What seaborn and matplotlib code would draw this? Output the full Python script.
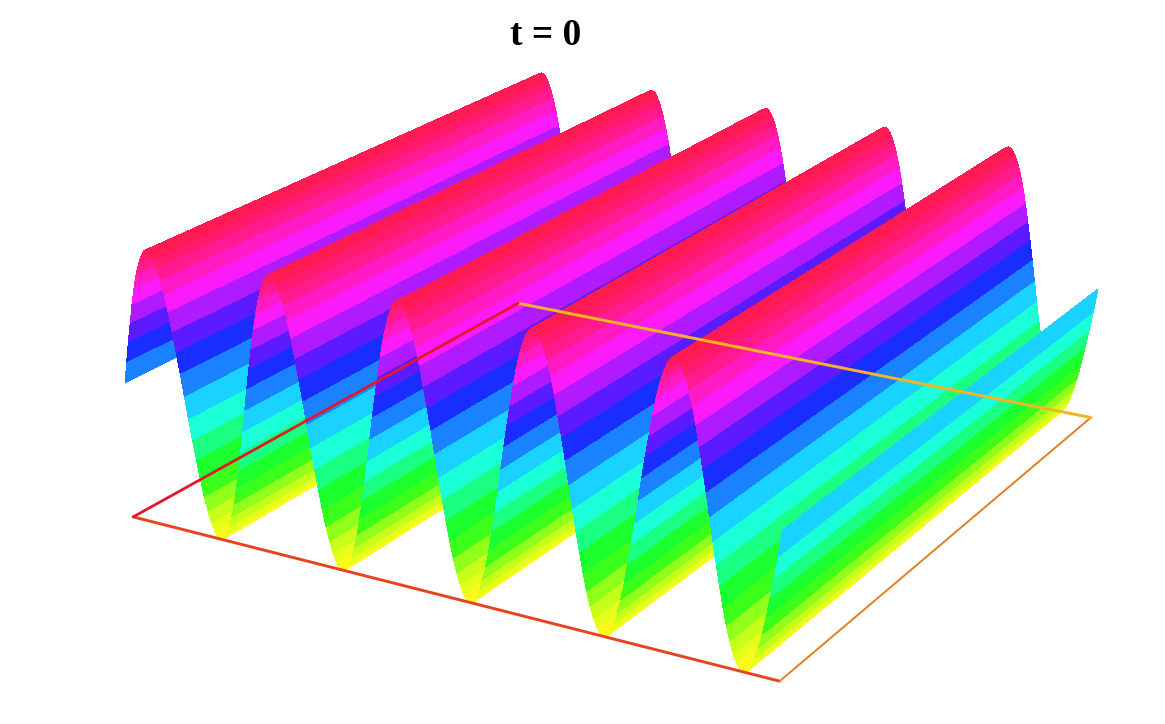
import numpy as np
import matplotlib
matplotlib.use('Agg')
import matplotlib.pyplot as plt
from matplotlib.colors import ListedColormap
import seaborn as sns

# ── Wave height read along the front edge, one list per ridge ──
wave_1 = [0.00, 0.16, 0.31, 0.45, 0.59, 0.71, 0.81, 0.89, 0.95, 0.99, 1.00, 0.99, 0.95, 0.89, 0.81, 0.71, 0.59, 0.45, 0.31, 0.16,
          0.00, -0.16, -0.31, -0.45, -0.59, -0.71, -0.81, -0.89, -0.95, -0.99, -1.00, -0.99, -0.95, -0.89, -0.81, -0.71, -0.59, -0.45, -0.31, -0.16]
wave_2 = [0.00, 0.16, 0.31, 0.45, 0.59, 0.71, 0.81, 0.89, 0.95, 0.99, 1.00, 0.99, 0.95, 0.89, 0.81, 0.71, 0.59, 0.45, 0.31, 0.16,
          0.00, -0.16, -0.31, -0.45, -0.59, -0.71, -0.81, -0.89, -0.95, -0.99, -1.00, -0.99, -0.95, -0.89, -0.81, -0.71, -0.59, -0.45, -0.31, -0.16]
wave_3 = [0.00, 0.16, 0.31, 0.45, 0.59, 0.71, 0.81, 0.89, 0.95, 0.99, 1.00, 0.99, 0.95, 0.89, 0.81, 0.71, 0.59, 0.45, 0.31, 0.16,
          0.00, -0.16, -0.31, -0.45, -0.59, -0.71, -0.81, -0.89, -0.95, -0.99, -1.00, -0.99, -0.95, -0.89, -0.81, -0.71, -0.59, -0.45, -0.31, -0.16]
wave_4 = [0.00, 0.16, 0.31, 0.45, 0.59, 0.71, 0.81, 0.89, 0.95, 0.99, 1.00, 0.99, 0.95, 0.89, 0.81, 0.71, 0.59, 0.45, 0.31, 0.16,
          0.00, -0.16, -0.31, -0.45, -0.59, -0.71, -0.81, -0.89, -0.95, -0.99, -1.00, -0.99, -0.95, -0.89, -0.81, -0.71, -0.59, -0.45, -0.31, -0.16]
wave_5 = [0.00, 0.16, 0.31, 0.45, 0.59, 0.71, 0.81, 0.89, 0.95, 0.99, 1.00, 0.99, 0.95, 0.89, 0.81, 0.71, 0.59, 0.45, 0.31, 0.16,
          0.00, -0.16, -0.31, -0.45, -0.59, -0.71, -0.81, -0.89, -0.95, -0.99, -1.00, -0.99, -0.95, -0.89, -0.81, -0.71, -0.59, -0.45, -0.31, -0.16, 0.02]
depth = [0.0, 1.0]

# ── Floor frame, corner by corner ──
frame_x = [0.0, 1.0, 1.0, 0.0, 0.0]
frame_y = [0.0, 0.0, 1.0, 1.0, 0.0]
frame_colors = ['#e8431f', '#e07f24', '#f5b428', '#e0182e']
frame_widths = [2.1, 1.4, 2.1, 2.0]

sns.set_theme(style='white')
plt.rcParams['font.family'] = ['Liberation Serif', 'DejaVu Serif']

height = np.array(wave_1 + wave_2 + wave_3 + wave_4 + wave_5)
across = np.linspace(0, 1, len(height))
X, Y = np.meshgrid(across, depth)
Z = np.vstack([height, height])

# hue runs yellow -> green -> cyan -> blue -> magenta -> red, in flat bands
hsv = plt.get_cmap('hsv')
band_colors = hsv(np.linspace(0.17, 0.97, 40))
band_colors[:, :3] = band_colors[:, :3] * 0.9 + 0.1
bands = ListedColormap(band_colors)

fig = plt.figure(figsize=(11.65, 7.24), dpi=100)
# the 3D box stays square, so it has to be as wide as the figure
ax = fig.add_axes([0.0275, -0.29, 1, 1.61], projection='3d')
ax.computed_zorder = False
ax.view_init(elev=20.4, azim=-60)
ax.set_proj_type('persp', focal_length=0.5)
ax.set_box_aspect((1, 1, 0.396), zoom=0.87)
ax.set_xlim(0, 1)
ax.set_ylim(0, 1)
ax.set_zlim(-1, 1)
ax.set_axis_off()

ax.plot_surface(X, Y, Z, rstride=1, cstride=1, cmap=bands, vmin=-1, vmax=1,
                linewidth=0, antialiased=False, shade=False, zorder=1)

for i in range(4):
    ax.plot(frame_x[i:i+2], frame_y[i:i+2], [-1, -1], color=frame_colors[i],
            linewidth=frame_widths[i], zorder=2)

fig.text(546/1165, 1 - 45/724, 't = 0', ha='center', va='baseline',
         fontsize=27, fontweight='bold', color='black')

plt.savefig('out.png', dpi=100)
plt.close()
